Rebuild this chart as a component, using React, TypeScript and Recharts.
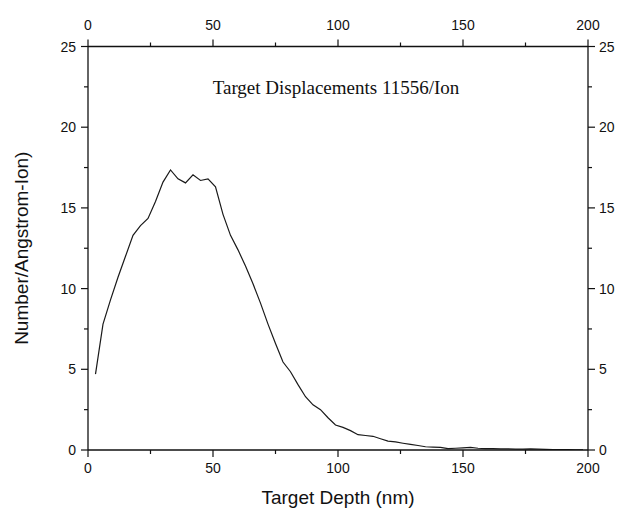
import { Label, Line, LineChart, XAxis, YAxis } from 'recharts';

// depth bins (nm) and displacements per Angstrom-Ion
const depths = [
  3, 6, 9, 12, 15, 18, 21, 24, 27, 30, 33, 36, 39, 42, 45, 48, 51, 54, 57, 60,
  63, 66, 69, 72, 75, 78, 81, 84, 87, 90, 93, 96, 99, 102, 105, 108, 111, 114,
  117, 120, 123, 126, 129, 132, 135, 138, 141, 144, 147, 150, 153, 156, 159,
  162, 165, 168, 171, 174, 177, 180, 183, 186, 189, 192, 195, 198,
];
const displacements = [
  4.7, 7.8, 9.3, 10.7, 12.0, 13.3, 13.9, 14.35, 15.4, 16.6, 17.35, 16.8, 16.55,
  17.05, 16.7, 16.8, 16.3, 14.6, 13.3, 12.4, 11.4, 10.3, 9.1, 7.8, 6.6, 5.45,
  4.85, 4.05, 3.3, 2.8, 2.5, 2.0, 1.55, 1.4, 1.2, 0.95, 0.9, 0.85, 0.7, 0.55,
  0.5, 0.42, 0.35, 0.28, 0.2, 0.18, 0.16, 0.09, 0.11, 0.13, 0.16, 0.11, 0.09,
  0.08, 0.07, 0.07, 0.05, 0.06, 0.07, 0.05, 0.04, 0.03, 0.02, 0.02, 0.01, 0.01,
];
const xTicks = [0, 25, 50, 75, 100, 125, 150, 175, 200];
const yTicks = [0, 2.5, 5, 7.5, 10, 12.5, 15, 17.5, 20, 22.5, 25];

const data = depths.map((d, i) => ({ depth: d, value: displacements[i] }));

const SANS = '"Liberation Sans", Arial, sans-serif';
const INK = '#111';

const makeTick = (side, majorStep) => (props) => {
  const { x, y, payload } = props;
  const v = payload.value;
  const major = Math.abs(v / majorStep - Math.round(v / majorStep)) < 1e-6;
  const len = major ? 7 : 4;
  let line;
  let label = null;
  if (side === 'bottom') {
    line = <line x1={x} y1={y} x2={x} y2={y + len} stroke={INK} strokeWidth={1.2} />;
    if (major) label = <text x={x} y={y + 23} textAnchor='middle'>{v}</text>;
  } else if (side === 'top') {
    line = <line x1={x} y1={y} x2={x} y2={y - len} stroke={INK} strokeWidth={1.2} />;
    if (major) label = <text x={x} y={y - 17} textAnchor='middle'>{v}</text>;
  } else if (side === 'left') {
    line = <line x1={x} y1={y} x2={x - len} y2={y} stroke={INK} strokeWidth={1.2} />;
    if (major) label = <text x={x - 12} y={y + 5} textAnchor='end'>{v}</text>;
  } else {
    line = <line x1={x} y1={y} x2={x + len} y2={y} stroke={INK} strokeWidth={1.2} />;
    if (major) label = <text x={x + 11} y={y + 5} textAnchor='start'>{v}</text>;
  }
  return (
    <g fontFamily={SANS} fontSize={14} fill={INK}>
      {line}
      {label}
    </g>
  );
};

const axisLine = { stroke: INK, strokeWidth: 1.3 };

const App = () => {
  return (
    <div style={{ position: 'absolute', left: 0, top: 0, width: 619, height: 511 }}>
      <LineChart
        width={619}
        height={511}
        data={data}
        margin={{ top: 6.5, right: 0, left: 13, bottom: 0 }}
      >
        <XAxis
          xAxisId='bottom'
          dataKey='depth'
          type='number'
          domain={[0, 200]}
          ticks={xTicks}
          interval={0}
          height={61}
          tickSize={0}
          tickMargin={0}
          tickLine={false}
          axisLine={axisLine}
          tick={makeTick('bottom', 50)}
          allowDataOverflow
        >
          <Label
            content={({ viewBox }) => (
              <text
                x={viewBox.x + viewBox.width / 2}
                y={viewBox.y + 47}
                textAnchor='middle'
                dominantBaseline='central'
                fontFamily={SANS}
                fontSize={19}
                fill={INK}
              >
                Target Depth (nm)
              </text>
            )}
          />
        </XAxis>
        <XAxis
          xAxisId='top'
          orientation='top'
          dataKey='depth'
          type='number'
          domain={[0, 200]}
          ticks={xTicks}
          interval={0}
          height={40}
          tickSize={0}
          tickMargin={0}
          tickLine={false}
          axisLine={axisLine}
          tick={makeTick('top', 50)}
          allowDataOverflow
        />
        <YAxis
          yAxisId='left'
          type='number'
          domain={[0, 25]}
          ticks={yTicks}
          interval={0}
          width={75}
          tickSize={0}
          tickMargin={0}
          tickLine={false}
          axisLine={axisLine}
          tick={makeTick('left', 5)}
          allowDataOverflow
        >
          <Label
            content={({ viewBox }) => {
              const cx = viewBox.x + 8.5;
              const cy = viewBox.y + viewBox.height / 2;
              return (
                <text
                  x={cx}
                  y={cy}
                  transform={`rotate(-90, ${cx}, ${cy})`}
                  textAnchor='middle'
                  dominantBaseline='central'
                  fontFamily={SANS}
                  fontSize={19}
                  fill={INK}
                >
                  Number/Angstrom-Ion)
                </text>
              );
            }}
          />
        </YAxis>
        <YAxis
          yAxisId='right'
          orientation='right'
          type='number'
          domain={[0, 25]}
          ticks={yTicks}
          interval={0}
          width={31}
          tickSize={0}
          tickMargin={0}
          tickLine={false}
          axisLine={axisLine}
          tick={makeTick('right', 5)}
          allowDataOverflow
        />
        <Line
          xAxisId='bottom'
          yAxisId='left'
          type='linear'
          dataKey='value'
          stroke='#1a1a1a'
          strokeWidth={1.2}
          dot={false}
          isAnimationActive={false}
        />
      </LineChart>
      <div
        style={{
          position: 'absolute',
          left: 336,
          top: 78,
          transform: 'translateX(-50%)',
          whiteSpace: 'nowrap',
          fontFamily: '"Liberation Serif", "Times New Roman", serif',
          fontSize: 19,
          lineHeight: '20px',
          color: INK,
        }}
      >
        Target Displacements 11556/Ion
      </div>
    </div>
  );
};

export default App;
